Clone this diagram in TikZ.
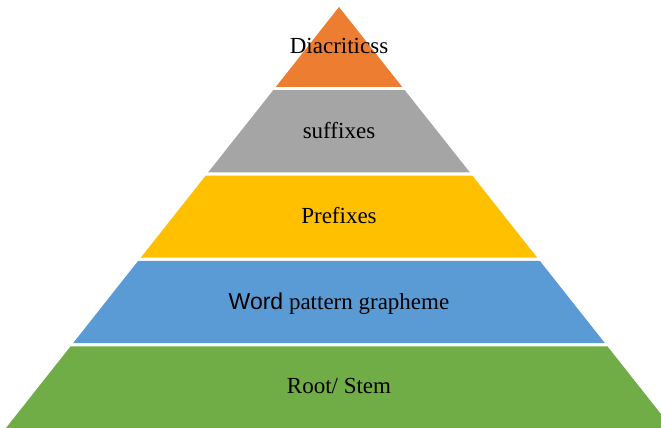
\documentclass[tikz,border=0pt]{standalone}
\usepackage{fontspec}
\setmainfont{Liberation Serif}
\newfontfamily\labelsans{Liberation Sans}
\definecolor{tierorange}{HTML}{ED7D31}
\definecolor{tiergray}{HTML}{A5A5A5}
\definecolor{tieryellow}{HTML}{FFC000}
\definecolor{tierblue}{HTML}{5B9BD5}
\definecolor{tiergreen}{HTML}{70AD47}
\begin{document}
\begin{tikzpicture}[x=1pt,y=-1pt,
  tierlabel/.style={anchor=base,inner sep=0pt,text=black,
    font=\fontsize{23}{27}\selectfont}]
\useasboundingbox (0,0) rectangle (661,428);
\clip (0,0) rectangle (661,428);
% pyramid tiers, separated by thin white gaps
\fill[tierorange] (339,7) -- (402.1,86.8) -- (275.9,86.8) -- cycle;
\fill[tiergray]   (273.2,90.2) -- (404.8,90.2) -- (469.8,172.3) -- (208.2,172.3) -- cycle;
\fill[tieryellow] (205.6,175.7) -- (472.4,175.7) -- (537.1,257.5) -- (140.9,257.5) -- cycle;
\fill[tierblue]   (138.2,260.8) -- (539.8,260.8) -- (604.8,343) -- (73.2,343) -- cycle;
\fill[tiergreen]  (70.6,346.3) -- (607.4,346.3) -- (672,428) -- (6,428) -- cycle;
% tier labels
\node[tierlabel] (diacritics) at (339,53)  {Diacriticss};
\node[tierlabel] (suffixes)   at (339,138) {suffixes};
\node[tierlabel] (prefixes)   at (339,223) {Prefixes};
\node[tierlabel] (pattern)    at (339,309) {{\labelsans Word} pattern grapheme};
\node[tierlabel] (root)       at (339,393) {Root/ Stem};
\end{tikzpicture}
\end{document}
